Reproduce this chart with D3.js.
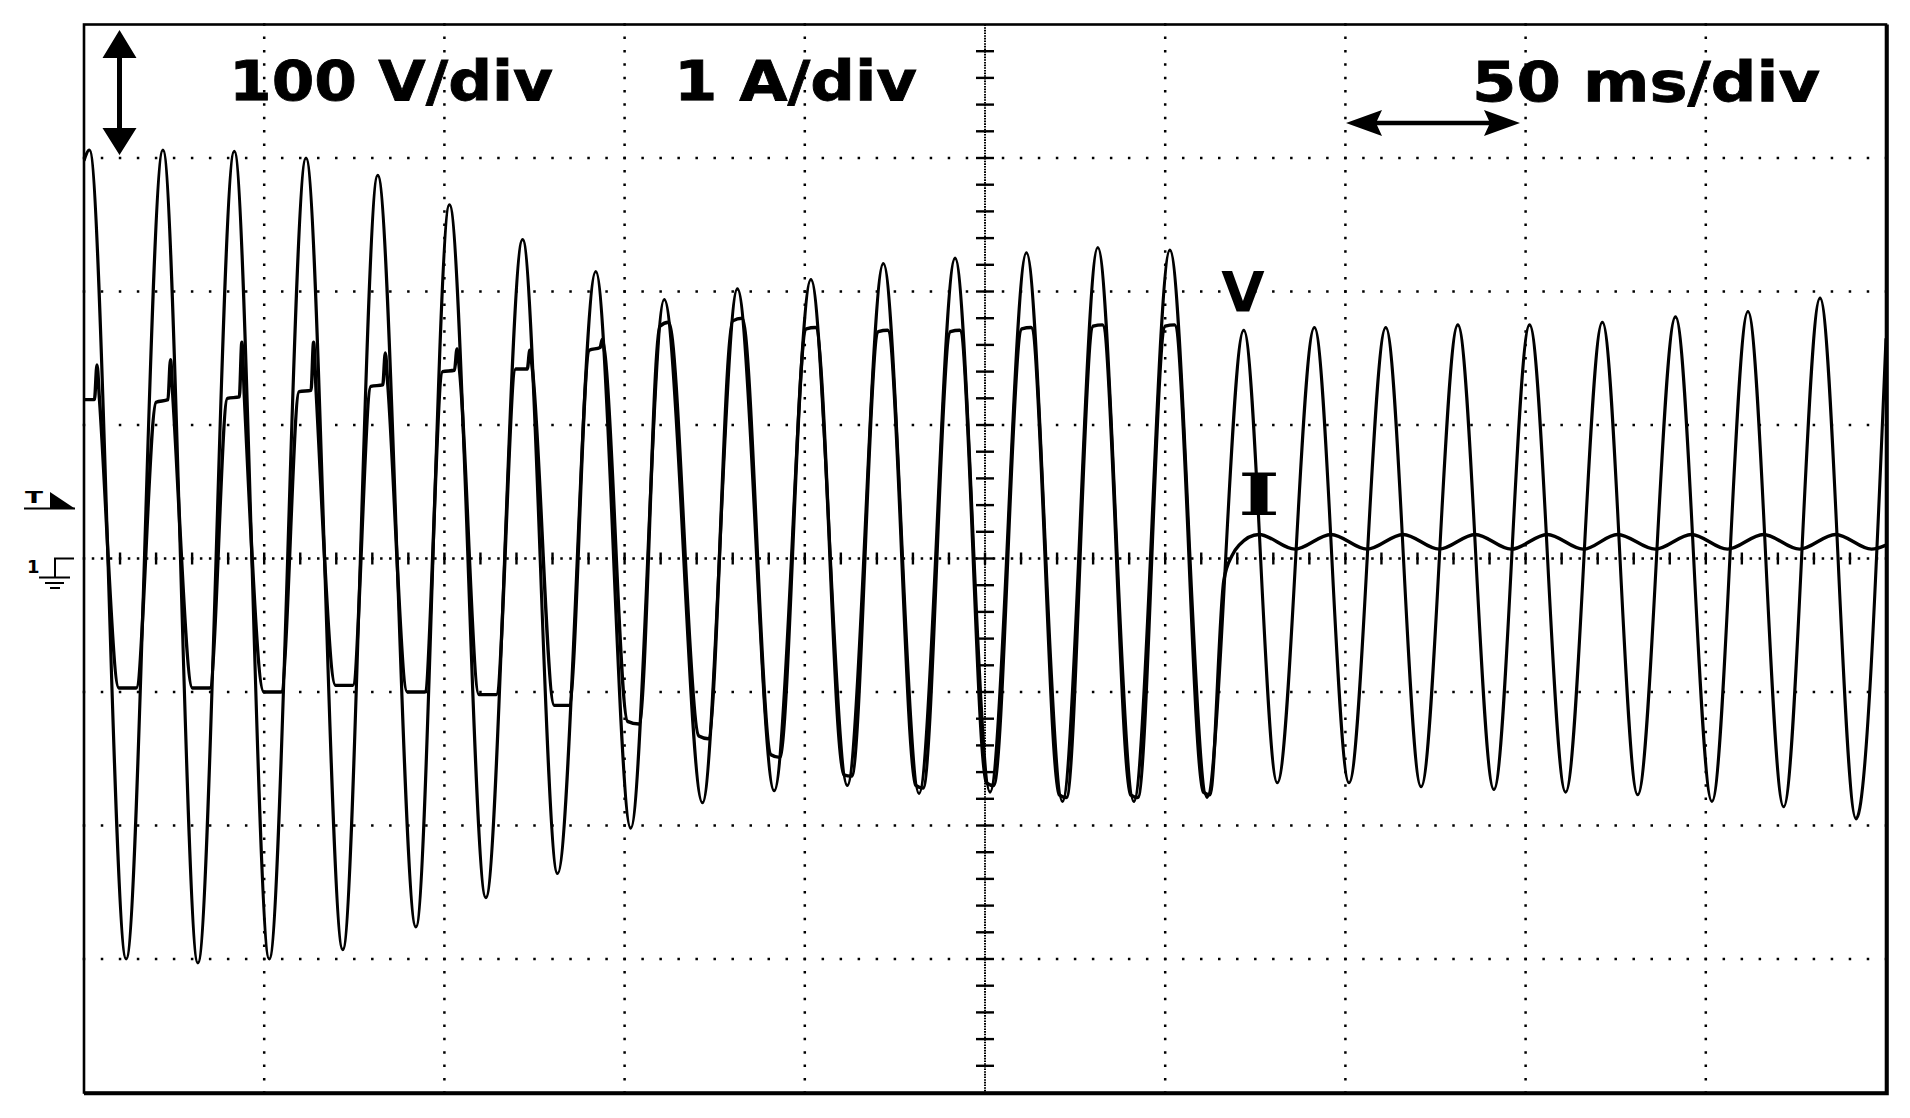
<!DOCTYPE html>
<html><head><meta charset="utf-8">
<script src="https://cdn.jsdelivr.net/npm/d3@7"></script>
<style>html,body{margin:0;padding:0;background:#fff;overflow:hidden}</style>
</head><body><svg id="c" width="1910" height="1118"></svg>
<script>
// ---- data (time in ms, amplitude in divisions) ----
const timeDomain = [0, 500];          // 10 div x 50 ms/div
const divDomain = [-4, 4];            // 8 vertical divisions
const scaleLabels = ["100 V/div", "1 A/div", "50 ms/div"];
const traceLabels = ["V", "I"];
const markerLabels = ["T", "1"];

// voltage trace: successive peaks / troughs
const vTrace = [
  [0, 2.98],
  [1.5, 3.06], [11.7, -3.00],
  [21.9, 3.06], [31.6, -3.03],
  [41.7, 3.05], [51.4, -3.00],
  [61.6, 3.00], [71.8, -2.93],
  [81.5, 2.87], [92.1, -2.76],
  [101.4, 2.65], [111.5, -2.54],
  [121.7, 2.39], [131.4, -2.36],
  [142.0, 2.15], [151.7, -2.02],
  [161.0, 1.94], [171.6, -1.83],
  [181.3, 2.02], [191.5, -1.74],
  [201.7, 2.09], [211.8, -1.70],
  [221.8, 2.21], [231.7, -1.76],
  [241.7, 2.25], [251.4, -1.75],
  [261.5, 2.29], [271.5, -1.82],
  [281.3, 2.33], [291.3, -1.82],
  [301.3, 2.31], [311.6, -1.79],
  [321.8, 1.71], [331.1, -1.68],
  [341.4, 1.73], [351.0, -1.68],
  [361.2, 1.73], [371.0, -1.71],
  [381.2, 1.75], [391.2, -1.73],
  [401.1, 1.75], [411.1, -1.75],
  [421.3, 1.77], [431.1, -1.77],
  [441.6, 1.81], [451.7, -1.82],
  [461.7, 1.85], [471.6, -1.86],
  [481.7, 1.95], [491.7, -1.95],
  [500, 1.65]
];

// current trace: plateau / spike / trough points
const iTrace = [
  [0, 1.19], [2.9, 1.19], [3.6, 1.45], [4.3, 1.19], [9.7, -0.97], [14.5, -0.97],
  [20.0, 1.17], [23.3, 1.19], [24.0, 1.49], [24.7, 1.19], [30.1, -0.97], [34.9, -0.97],
  [39.8, 1.20], [43.1, 1.21], [43.8, 1.62], [44.5, 1.21], [49.9, -1.00], [54.7, -1.00],
  [59.7, 1.25], [63.0, 1.26], [63.7, 1.62], [64.4, 1.26], [69.8, -0.95], [74.6, -0.95],
  [79.6, 1.29], [82.9, 1.30], [83.6, 1.54], [84.3, 1.30], [89.7, -1.00], [94.5, -1.00],
  [99.5, 1.40], [102.8, 1.41], [103.5, 1.57], [104.2, 1.41], [109.6, -1.02], [114.4, -1.02],
  [119.8, 1.42], [123.0, 1.42], [123.7, 1.56], [124.4, 1.42], [130.5, -1.10], [134.6, -1.10],
  [140.2, 1.56], [143.2, 1.58], [143.8, 1.64], [144.4, 1.56], [150.8, -1.22], [154.0, -1.24],
  [159.8, 1.74], [162.2, 1.77], [170.6, -1.33], [173.2, -1.35],
  [180.0, 1.78], [182.6, 1.80], [190.6, -1.47], [193.0, -1.49],
  [200.4, 1.72], [203.0, 1.73], [210.8, -1.62], [213.0, -1.63],
  [220.4, 1.70], [223.0, 1.71], [230.8, -1.70], [232.8, -1.72],
  [240.4, 1.70], [243.0, 1.71], [250.4, -1.68], [252.4, -1.70],
  [260.2, 1.72], [262.8, 1.73], [270.6, -1.77], [272.6, -1.79],
  [280.0, 1.74], [282.6, 1.75], [290.4, -1.77], [292.4, -1.79],
  [300.0, 1.74], [302.6, 1.75], [310.6, -1.75], [312.4, -1.77],
  [316.3, -0.16], [318.5, 0.02], [320.5, 0.10],
  [326, 0.18], [336, 0.07], [346, 0.18], [356, 0.07], [366, 0.18], [376, 0.07],
  [386, 0.18], [396, 0.07], [406, 0.18], [416, 0.07], [425.5, 0.18], [436, 0.07],
  [446, 0.18], [456, 0.07], [466, 0.18], [476, 0.07], [486, 0.18], [496, 0.07],
  [500, 0.10]
];

// ---- layout ----
const W = 1910, H = 1118;
const L = 84, T = 24.5, R = 1886, B = 1092.5;
const x = d3.scaleLinear().domain(timeDomain).range([L, R]);
const y = d3.scaleLinear().domain(divDomain).range([B, T]);
const divX = x(50) - x(0), divY = y(0) - y(1);

const svg = d3.select('#c');
svg.append('rect').attr('width', W).attr('height', H).attr('fill', '#fff');

const grid = svg.append('g');
const xGrid = x.ticks(10).filter(t => t > timeDomain[0] && t < timeDomain[1]);
const yGrid = y.ticks(8).filter(v => v > divDomain[0] && v < divDomain[1]);
const dot = 2.5;

// vertical dotted grid lines (dots every 1/10 div)
grid.selectAll('line.vg').data(xGrid.filter(t => t !== 250)).join('line')
  .attr('x1', d => x(d)).attr('x2', d => x(d))
  .attr('y1', T - dot / 2).attr('y2', B)
  .attr('stroke', '#000').attr('stroke-width', dot)
  .attr('stroke-dasharray', `${dot} ${divY / 10 - dot}`);
// horizontal dotted grid lines
grid.selectAll('line.hg').data(yGrid.filter(v => v !== 0)).join('line')
  .attr('y1', d => y(d)).attr('y2', d => y(d))
  .attr('x1', L - dot / 2).attr('x2', R)
  .attr('stroke', '#000').attr('stroke-width', dot)
  .attr('stroke-dasharray', `${dot} ${divX / 10 - dot}`);

// center vertical axis: dense dots + ticks every 1/5 div
const cx = x(250);
grid.append('line').attr('x1', cx).attr('x2', cx).attr('y1', T).attr('y2', B)
  .attr('stroke', '#000').attr('stroke-width', 2)
  .attr('stroke-dasharray', `1.6 ${divY / 50 - 1.6}`);
const vTicks = d3.range(-20, 21).map(i => i / 5).filter(v => v > -4 && v < 4);
grid.selectAll('line.vt').data(vTicks).join('line')
  .attr('x1', cx - 9).attr('x2', cx + 9)
  .attr('y1', d => y(d)).attr('y2', d => y(d))
  .attr('stroke', '#000').attr('stroke-width', 2.4);
// center horizontal axis
const cy = y(0);
grid.append('line').attr('x1', L - dot / 2).attr('x2', R).attr('y1', cy).attr('y2', cy)
  .attr('stroke', '#000').attr('stroke-width', dot)
  .attr('stroke-dasharray', `${dot} ${divX / 20 - dot}`);
const hTicks = d3.range(1, 50).map(i => i * 10);
grid.selectAll('line.ht').data(hTicks).join('line')
  .attr('x1', d => x(d)).attr('x2', d => x(d))
  .attr('y1', cy - 6).attr('y2', cy + 6)
  .attr('stroke', '#000').attr('stroke-width', 2.4);

// traces
svg.append('clipPath').attr('id', 'clip').append('rect')
  .attr('x', L).attr('y', T).attr('width', R - L).attr('height', B - T);
const line = d3.line().x(d => x(d[0])).y(d => y(d[1])).curve(d3.curveMonotoneX);
const traces = svg.append('g').attr('clip-path', 'url(#clip)');
traces.append('path').datum(vTrace).attr('d', line)
  .attr('fill', 'none').attr('stroke', '#000').attr('stroke-width', 3.1).attr('stroke-linejoin', 'round');
traces.append('path').datum(iTrace).attr('d', line)
  .attr('fill', 'none').attr('stroke', '#000').attr('stroke-width', 3.4).attr('stroke-linejoin', 'round');

// frame
svg.append('rect').attr('x', L).attr('y', T).attr('width', R - L).attr('height', B - T)
  .attr('fill', 'none').attr('stroke', '#000').attr('stroke-width', 2.6);
svg.append('path').attr('d', `M${R + 1.6},${T} V${B + 1.6} H${L}`)
  .attr('fill', 'none').attr('stroke', '#000').attr('stroke-width', 2.4);

// scale labels
const lab = svg.append('g').attr('font-family', 'DejaVu Sans, Verdana, sans-serif')
  .attr('font-weight', 'bold').attr('font-size', 56).attr('fill', '#000');
const labPos = [[229, 100, 324], [674, 100, 243], [1472, 101, 348]];
lab.selectAll('text').data(scaleLabels).join('text')
  .attr('x', (d, i) => labPos[i][0]).attr('y', (d, i) => labPos[i][1])
  .attr('textLength', (d, i) => labPos[i][2]).attr('lengthAdjust', 'spacingAndGlyphs')
  .attr('stroke', '#000').attr('stroke-width', 0.8)
  .text(d => d);

// vertical double arrow
const ax = 119.5;
svg.append('path').attr('d', `M${ax},30 L${ax + 17},58 L${ax - 17},58 Z M${ax},155 L${ax + 17},128 L${ax - 17},128 Z`)
  .attr('fill', '#000');
svg.append('line').attr('x1', ax).attr('x2', ax).attr('y1', 55).attr('y2', 131)
  .attr('stroke', '#000').attr('stroke-width', 5);
// horizontal double arrow
const ay = 123, ax1 = 1346, ax2 = 1520;
svg.append('path').attr('d', `M${ax1},${ay} L${ax1 + 36},${ay - 13} L${ax1 + 30},${ay} L${ax1 + 36},${ay + 13} Z M${ax2},${ay} L${ax2 - 36},${ay - 13} L${ax2 - 30},${ay} L${ax2 - 36},${ay + 13} Z`)
  .attr('fill', '#000');
svg.append('line').attr('x1', ax1 + 20).attr('x2', ax2 - 20).attr('y1', ay).attr('y2', ay)
  .attr('stroke', '#000').attr('stroke-width', 4.5);

// trace labels
svg.append('text').attr('x', 1243).attr('y', 311).attr('text-anchor', 'middle')
  .attr('font-family', 'DejaVu Sans, sans-serif').attr('font-weight', 'bold').attr('font-size', 56)
  .text(traceLabels[0]);
svg.append('text').attr('transform', 'translate(1259,515) scale(1.55,1)').attr('text-anchor', 'middle')
  .attr('font-family', 'DejaVu Serif, serif').attr('font-weight', 'bold').attr('font-size', 58)
  .text(traceLabels[1]);

// left markers: trigger level and channel-1 ground
const mk = svg.append('g');
mk.append('text').attr('x', 25).attr('y', 503).attr('font-family', 'DejaVu Sans, sans-serif')
  .attr('font-weight', 'bold').attr('font-size', 15).attr('textLength', 18).attr('lengthAdjust', 'spacingAndGlyphs')
  .text(markerLabels[0]);
mk.append('path').attr('d', 'M50,492 L50,508 L74,508 Z').attr('fill', '#000');
mk.append('line').attr('x1', 24).attr('x2', 75).attr('y1', 508.5).attr('y2', 508.5)
  .attr('stroke', '#000').attr('stroke-width', 2);
mk.append('text').attr('x', 27).attr('y', 573).attr('font-family', 'DejaVu Sans, sans-serif')
  .attr('font-weight', 'bold').attr('font-size', 18).text(markerLabels[1]);
mk.append('path').attr('d', `M74,${cy} H55 V577.5 M39,577.5 H70 M45,583 H64 M50,588 H60`)
  .attr('fill', 'none').attr('stroke', '#000').attr('stroke-width', 2);
</script>
</body></html>
